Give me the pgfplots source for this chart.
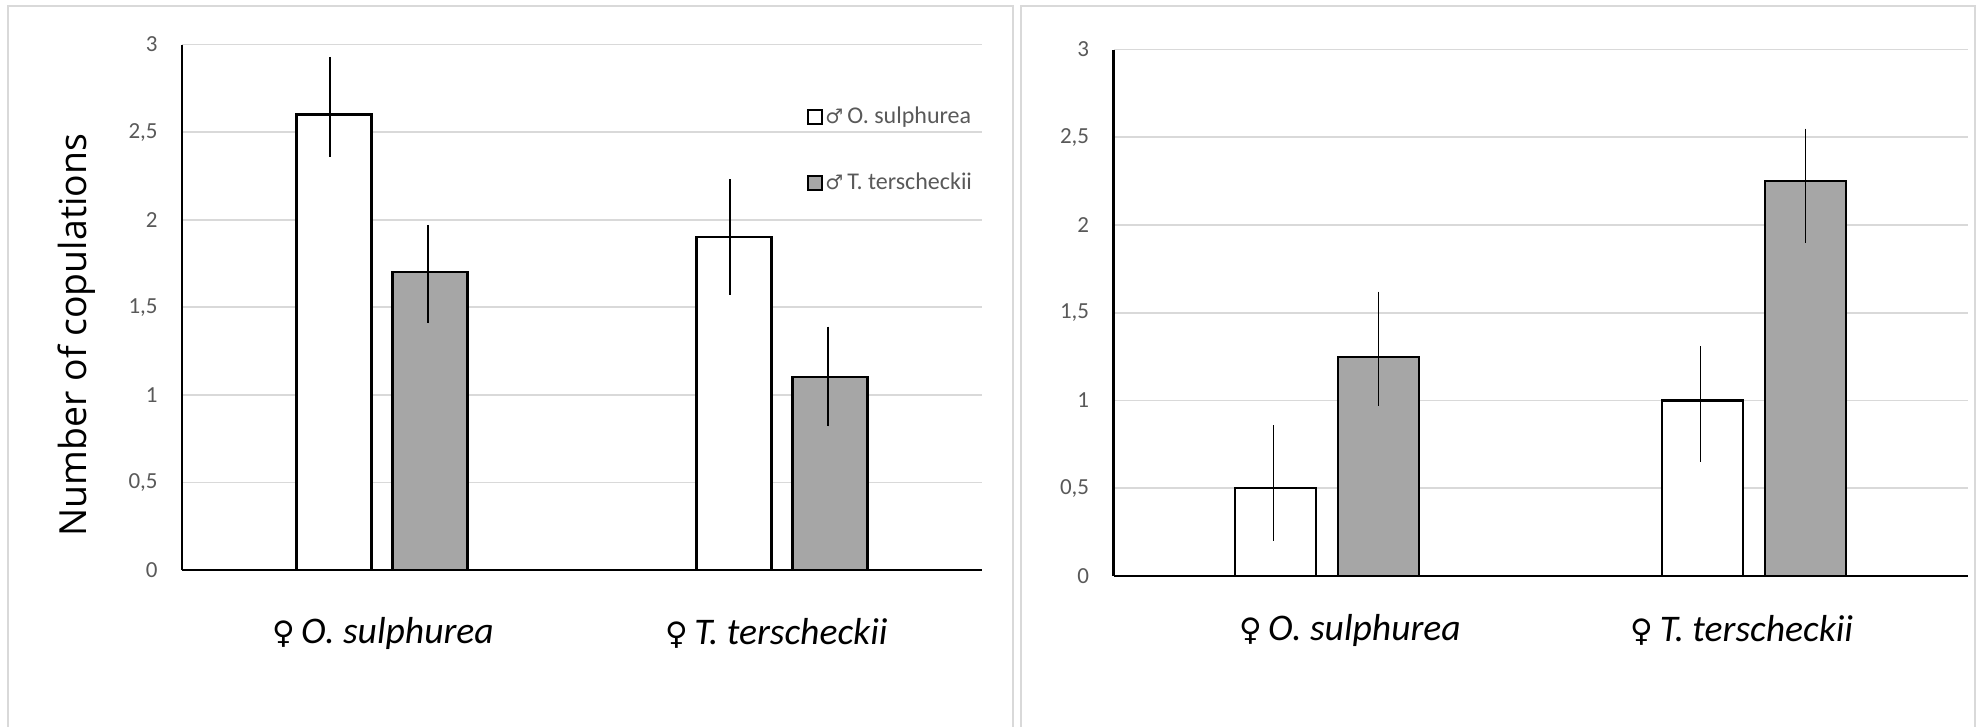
\documentclass[border=0pt]{standalone}
\usepackage{pgfplots}
\pgfplotsset{compat=1.18}
\usepackage{pgfplotstable}
\usepackage{fontspec}
\setmainfont{Carlito}
\newfontfamily\sym{DejaVu Sans}
\newfontfamily\ylabfont{Open Sans}
\definecolor{tickgray}{HTML}{595959}
\definecolor{barfill}{HTML}{A6A6A6}
\definecolor{gridc}{HTML}{D9D9D9}
\definecolor{framec}{HTML}{D9D9D9}

\pgfplotstableread{
x y ep em
0 2.60 0.33 0.24
1 1.90 0.33 0.33
}\LWhite
\pgfplotstableread{
x y ep em
0 1.70 0.27 0.29
1 1.10 0.29 0.28
}\LGray
\pgfplotstableread{
x y ep em
0 0.50 0.36 0.30
1 1.00 0.31 0.35
}\RWhite
\pgfplotstableread{
x y ep em
0 1.25 0.37 0.28
1 2.25 0.30 0.35
}\RGray

\pgfplotsset{
  panel/.style={
    scale only axis,
    anchor=south west,
    xmin=-0.5, xmax=1.5,
    ymin=0, ymax=3,
    ytick={0,0.5,...,3},
    axis x line*=bottom,
    axis y line*=left,
    axis line style={black, line width=1.35bp},
    major tick length=0pt,
    ymajorgrids,
    grid style={gridc, line width=0.85bp},
    /pgf/number format/use comma,
    /pgf/number format/assume math mode=true,
    yticklabel style={font=\fontsize{11.5bp}{13bp}\selectfont, text=tickgray, inner sep=0pt, anchor=east, xshift=-12bp},
    xticklabel style={font=\fontsize{18.8bp}{22bp}\selectfont, text=black, inner sep=0pt, anchor=center},
    xticklabels={{{\sym\fontsize{15.5bp}{18bp}\selectfont ♀}\,\textit{O. sulphurea}}, {{\sym\fontsize{15.5bp}{18bp}\selectfont ♀}\,\textit{T. terscheckii}}},
    clip=false,
  },
  errs/.style={
    error bars/.cd, y dir=both, y explicit, error mark=none,
    error bar style={line width=0.6bp, black, solid, xshift=#1},
  },
}

\begin{document}
\begin{tikzpicture}
\path[use as bounding box] (0,0) rectangle (989bp,363.5bp);
\draw[framec, line width=1bp] (4bp,-5bp) -- (4bp,360.25bp) -- (506.5bp,360.25bp) -- (506.5bp,-5bp);
\draw[framec, line width=1bp] (510.5bp,-5bp) -- (510.5bp,360.25bp) -- (987.5bp,360.25bp) -- (987.5bp,-5bp);

\begin{axis}[panel,
  at={(91bp,78.5bp)}, width=400bp, height=262.75bp,
  xtick={0.0025,0.986},
  xticklabel style={yshift=-31.5bp},
  ylabel={\ylabfont\fontsize{18.7bp}{22bp}\selectfont Number of copulations},
  every axis y label/.style={at={(axis description cs:-0.132,0.447)}, rotate=90, anchor=center},
  legend cell align=left,
  legend style={draw=none, fill=none, at={(axis description cs:0.781,0.885)}, anchor=north west,
    inner sep=0pt, row sep=21bp, font=\fontsize{12bp}{14bp}\selectfont, text=tickgray,
    nodes={inner sep=1bp}},
  legend image code/.code={\draw[#1, line width=1.1bp] (0bp,-3.5bp) rectangle (7bp,3.5bp);},
]
\addplot[ybar, bar width=37.5bp, bar shift=-24bp, fill=white, draw=black, line width=1.1bp, errs=-26bp]
  table[x=x, y=y, y error plus=ep, y error minus=em] {\LWhite};
\addlegendentry{{\sym\fontsize{10bp}{12bp}\selectfont ♂}\,O. sulphurea}
\addplot[ybar, bar width=37.5bp, bar shift=24bp, fill=barfill, draw=black, line width=1.1bp, errs=23bp]
  table[x=x, y=y, y error plus=ep, y error minus=em] {\LGray};
\addlegendentry{{\sym\fontsize{10bp}{12bp}\selectfont ♂}\,T. terscheckii}
\end{axis}

\begin{axis}[panel,
  at={(556.75bp,75.5bp)}, width=427.25bp, height=263.2bp,
  xtick={0.0535,0.971},
  xticklabel style={yshift=-27bp},
]
\addplot[ybar, bar width=40.5bp, bar shift=-25.75bp, fill=white, draw=black, line width=1.1bp, errs=-27bp]
  table[x=x, y=y, y error plus=ep, y error minus=em] {\RWhite};
\addplot[ybar, bar width=40.5bp, bar shift=25.75bp, fill=barfill, draw=black, line width=1.1bp, errs=25.5bp]
  table[x=x, y=y, y error plus=ep, y error minus=em] {\RGray};
\end{axis}
\end{tikzpicture}
\end{document}
